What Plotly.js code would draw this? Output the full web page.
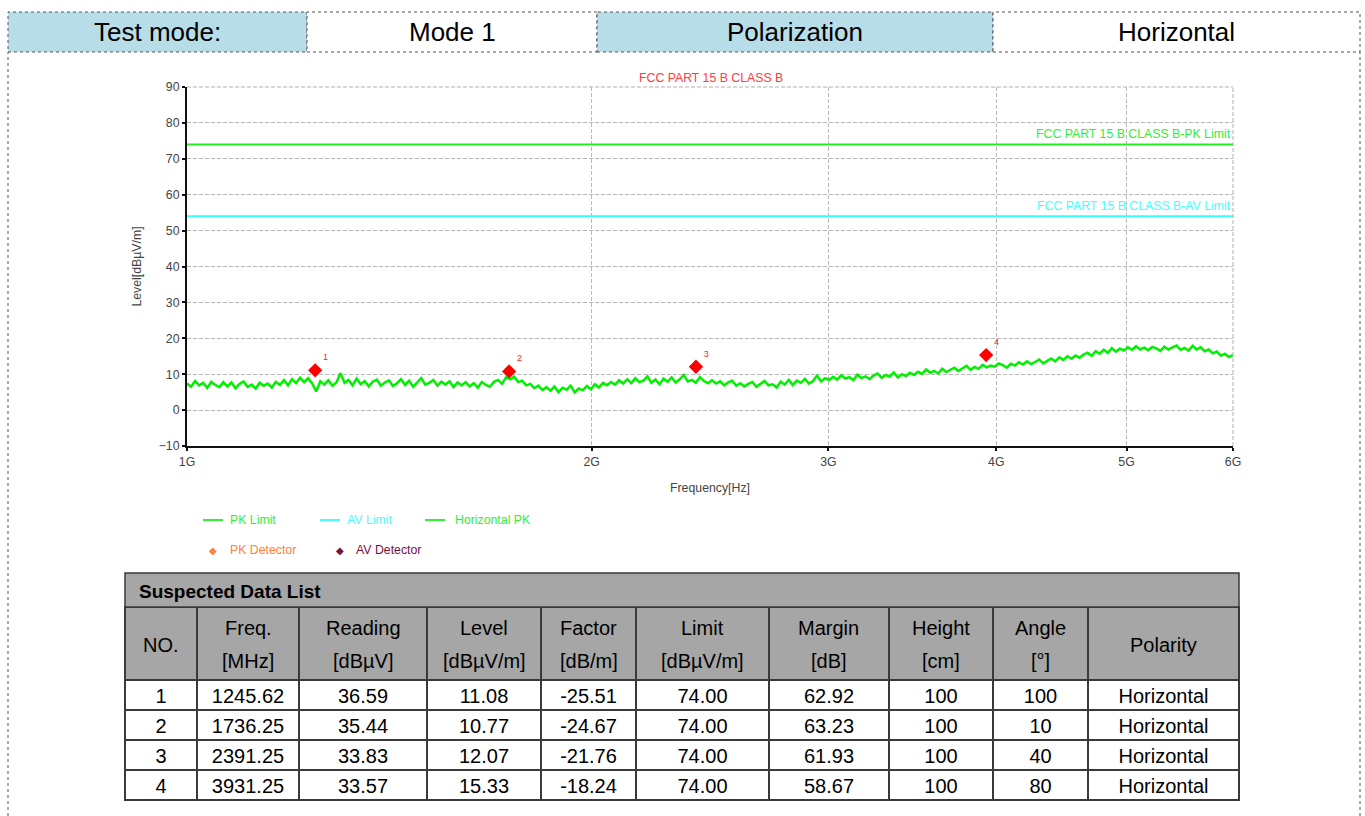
<!DOCTYPE html>
<html><head><meta charset="utf-8">
<script src="https://cdn.plot.ly/plotly-3.0.1.min.js"></script>
<style>html,body{margin:0;padding:0;background:#fff;overflow:hidden}#chart{width:1365px;height:816px}</style>
</head><body><div id="chart"></div>
<script>
const W = 1365, H = 816;

// ---------- data ----------
const infoLabels = ["Test mode:", "Mode 1", "Polarization", "Horizontal"];
const chartTitle = "FCC PART 15 B CLASS B";
const pkLimitLabel = "FCC PART 15 B CLASS B-PK Limit";
const avLimitLabel = "FCC PART 15 B CLASS B-AV Limit";
const pkLimit = 74;
const avLimit = 54;
const sweepStartMHz = 1000;
const sweepStopMHz = 6000;
const horizontalPK = [
  7.4, 6.5, 8.1, 6.9, 7.6, 6.2, 7.9, 7.0, 6.4, 7.8,
  6.6, 7.7, 6.1, 7.3, 8.0, 6.5, 7.1, 6.0, 7.6, 6.8,
  7.4, 6.3, 7.9, 7.0, 8.4, 6.9, 8.6, 7.5, 9.0, 7.8,
  8.9, 7.4, 5.2, 8.0, 7.1, 8.3, 6.8, 7.7, 10.3, 7.6,
  8.4, 6.9, 8.8, 7.2, 8.1, 6.6, 7.9, 8.5, 6.8, 7.7,
  8.3, 6.7, 7.5, 8.6, 7.0, 8.2, 6.5, 7.8, 8.9, 7.1,
  7.6, 8.4, 6.8, 7.9, 7.1, 8.0, 6.4, 7.7, 6.9, 7.8,
  6.6, 7.5, 6.2, 7.8, 7.0, 6.5, 7.9, 8.4, 7.3, 9.1,
  8.6, 9.3, 7.8, 8.2, 6.9, 7.3, 6.1, 6.8, 5.6, 6.4,
  5.4, 6.6, 5.0, 6.2, 5.7, 6.8, 4.9, 6.0, 5.5, 6.7,
  5.8, 7.2, 6.3, 7.6, 6.9, 7.8, 7.1, 8.3, 7.4, 8.6,
  7.5, 8.9, 7.8, 8.2, 9.4, 7.6, 8.5, 7.2, 8.8, 7.9,
  9.1, 7.7, 8.6, 9.8, 8.0, 8.4, 7.6, 9.2, 8.1, 7.5,
  8.3, 7.4, 8.0, 6.9, 7.7, 8.2, 6.8, 7.5, 6.6, 7.3,
  7.8, 6.5, 7.4, 8.1, 6.9, 7.2, 6.3, 7.9, 7.1, 8.4,
  7.0, 8.2, 7.6, 8.7, 7.4, 8.1, 9.6, 8.0, 8.9, 8.4,
  9.3, 8.5, 9.7, 8.8, 9.2, 8.3, 9.9, 8.9, 9.4, 8.6,
  9.6, 10.2, 9.0, 9.8, 9.3, 10.5, 9.1, 10.0, 9.5, 10.4,
  9.8, 10.7, 10.1, 11.3, 10.4, 10.9, 10.2, 11.5, 10.6, 11.1,
  11.8, 10.9, 11.6, 12.3, 11.2, 12.0, 11.5, 12.6, 11.9, 12.4,
  12.1, 13.0, 12.5, 11.8, 12.9, 12.4, 13.3, 12.7, 13.6, 12.8,
  13.4, 14.1, 13.0, 13.8, 14.4, 13.6, 14.7, 14.0, 15.0, 14.3,
  15.2, 14.6, 15.5, 16.0, 15.1, 16.4, 15.7, 16.8, 15.9, 17.3,
  16.3, 17.1, 16.6, 17.5, 16.8, 17.8, 16.9, 17.4, 16.7, 17.6,
  17.2, 16.5, 17.7, 16.9, 17.4, 18.0, 16.8, 17.3, 16.6, 17.9,
  16.9, 17.5, 16.4, 16.9, 15.8, 16.3, 15.2, 15.7, 14.8, 15.3
];
const markerNo = [1, 2, 3, 4];
const freqMHz = [1245.62, 1736.25, 2391.25, 3931.25];
const readingVals = [36.59, 35.44, 33.83, 33.57];
const levelVals = [11.08, 10.77, 12.07, 15.33];
const factorVals = [-25.51, -24.67, -21.76, -18.24];
const limitVals = [74.00, 74.00, 74.00, 74.00];
const marginVals = [62.92, 63.23, 61.93, 58.67];
const heightVals = [100, 100, 100, 100];
const angleVals = [100, 10, 40, 80];
const polarityVals = ["Horizontal", "Horizontal", "Horizontal", "Horizontal"];
const xTickVals = [1000, 2000, 3000, 4000, 5000, 6000];
const xTickText = ["1G", "2G", "3G", "4G", "5G", "6G"];
const yTickVals = [-10, 0, 10, 20, 30, 40, 50, 60, 70, 80, 90];
const headTop = ["NO.", "Freq.", "Reading", "Level", "Factor", "Limit", "Margin", "Height", "Angle", "Polarity"];
const headUnit = ["", "[MHz]", "[dBµV]", "[dBµV/m]", "[dB/m]", "[dBµV/m]", "[dB]", "[cm]", "[°]", ""];
const tableTitle = "Suspected Data List";
const legendLines = ["PK Limit", "AV Limit", "Horizontal PK"];
const legendMarkers = ["PK Detector", "AV Detector"];

// ---------- helpers (layout only) ----------
const X = p => p / W;
const Y = p => 1 - p / H;
const CH = "Liberation Sans, Arial, sans-serif";
const ARIAL = "Liberation Sans, Arial, sans-serif";
const CFS = 12.3;

// sweep grid (log-spaced measurement points)
const nPts = horizontalPK.length;
const sweepFreq = horizontalPK.map((_, i) => sweepStartMHz * Math.pow(sweepStopMHz / sweepStartMHz, i / (nPts - 1)));

const traces = [
  { x: [sweepStartMHz, sweepStopMHz], y: [pkLimit, pkLimit], mode: "lines", line: { color: "#22ee22", width: 2 }, hoverinfo: "skip", showlegend: false },
  { x: [sweepStartMHz, sweepStopMHz], y: [avLimit, avLimit], mode: "lines", line: { color: "#33ffff", width: 2 }, hoverinfo: "skip", showlegend: false },
  { x: sweepFreq, y: horizontalPK, mode: "lines", line: { color: "#00f000", width: 2.5 }, showlegend: false },
  { x: freqMHz, y: levelVals, mode: "markers+text", text: markerNo.map(String), textposition: "top right",
    textfont: { family: CH, size: 9, color: "#ff2020" },
    marker: { symbol: "diamond", size: 11, color: "#ff0000" }, showlegend: false, cliponaxis: false },
  {
    type: "table",
    domain: { x: [X(125), X(1239)], y: [Y(803), Y(607)] },
    columnwidth: [72, 102, 128, 114, 95, 133, 120, 104, 95, 151],
    header: { values: headTop.map(() => ""), height: 73, fill: { color: "#a6a6a6" }, line: { color: "#3a3a3a", width: 1.5 } },
    cells: {
      values: [
        markerNo.map(String),
        freqMHz.map(v => v.toFixed(2)),
        readingVals.map(v => v.toFixed(2)),
        levelVals.map(v => v.toFixed(2)),
        factorVals.map(v => v.toFixed(2)),
        limitVals.map(v => v.toFixed(2)),
        marginVals.map(v => v.toFixed(2)),
        heightVals.map(String),
        angleVals.map(String),
        polarityVals
      ],
      height: 30, align: "center", fill: { color: "#ffffff" },
      line: { color: "#3a3a3a", width: 1.5 },
      font: { family: ARIAL, size: 20, color: "#000" }
    }
  }
];

const shapes = [];
const annotations = [];

// top info row
const infoEdges = [8, 307, 597, 993, 1360];
const infoFill = ["#b7dde8", "#ffffff", "#b7dde8", "#ffffff"];
infoLabels.forEach((t, i) => {
  shapes.push({ type: "rect", xref: "paper", yref: "paper", x0: X(infoEdges[i]), x1: X(infoEdges[i + 1]), y0: Y(52), y1: Y(12),
    fillcolor: infoFill[i], line: { color: "#555", width: 1, dash: "dot" }, layer: "below" });
  annotations.push({ xref: "paper", yref: "paper", x: X((infoEdges[i] + infoEdges[i + 1]) / 2), y: Y(32), text: t, showarrow: false,
    xanchor: "center", yanchor: "middle", font: { family: ARIAL, size: 26, color: "#000" } });
});
// page side borders
[8, 1360].forEach(px => shapes.push({ type: "line", xref: "paper", yref: "paper", x0: X(px), x1: X(px), y0: Y(816), y1: Y(52),
  line: { color: "#555", width: 1, dash: "dot" } }));

// chart frame (top & right dashed)
shapes.push({ type: "line", xref: "paper", yref: "paper", x0: X(187), x1: X(1233), y0: Y(87), y1: Y(87), line: { color: "#b0b0b0", width: 1, dash: "4px,2px" } });
shapes.push({ type: "line", xref: "paper", yref: "paper", x0: X(1233), x1: X(1233), y0: Y(446), y1: Y(87), line: { color: "#b0b0b0", width: 1, dash: "4px,2px" } });

// chart title & limit labels
annotations.push({ xref: "paper", yref: "paper", x: X(711), y: Y(78), text: chartTitle, showarrow: false, xanchor: "center", yanchor: "middle",
  font: { family: CH, size: CFS, color: "#ff3b3b" } });
annotations.push({ xref: "paper", yref: "y", x: X(1233), y: pkLimit, text: pkLimitLabel, showarrow: false, xanchor: "right", yanchor: "bottom", yshift: 1,
  font: { family: CH, size: CFS, color: "#33ee33" } });
annotations.push({ xref: "paper", yref: "y", x: X(1233), y: avLimit, text: avLimitLabel, showarrow: false, xanchor: "right", yanchor: "bottom", yshift: 1,
  font: { family: CH, size: CFS, color: "#44ffff" } });

// legend (manual)
const lgLineX = [203, 320, 425];
const lgTextX = [230, 347, 455];
const lgColors = ["#33ee33", "#44ffff", "#33ee33"];
legendLines.forEach((t, i) => {
  shapes.push({ type: "line", xref: "paper", yref: "paper", x0: X(lgLineX[i]), x1: X(lgLineX[i] + 20), y0: Y(520), y1: Y(520), line: { color: lgColors[i], width: 2 } });
  annotations.push({ xref: "paper", yref: "paper", x: X(lgTextX[i] - 2), y: Y(520), text: t, showarrow: false, xanchor: "left", yanchor: "middle",
    font: { family: CH, size: CFS, color: lgColors[i] } });
});
const lgMarkX = [213, 340];
const lgMarkTextX = [230, 356];
const lgMarkColors = ["#ff8040", "#7a1040"];
legendMarkers.forEach((t, i) => {
  annotations.push({ xref: "paper", yref: "paper", x: X(lgMarkX[i]), y: Y(550), text: "◆", showarrow: false, xanchor: "center", yanchor: "middle",
    font: { family: "DejaVu Sans", size: 10, color: lgMarkColors[i] } });
  annotations.push({ xref: "paper", yref: "paper", x: X(lgMarkTextX[i] - 2), y: Y(550), text: t, showarrow: false, xanchor: "left", yanchor: "middle",
    font: { family: CH, size: CFS, color: lgMarkColors[i] } });
});

// table title bar
shapes.push({ type: "rect", xref: "paper", yref: "paper", x0: X(125), x1: X(1239), y0: Y(607), y1: Y(573), fillcolor: "#a6a6a6", line: { color: "#3a3a3a", width: 1.5 } });
annotations.push({ xref: "paper", yref: "paper", x: X(137), y: Y(591), text: "<b>" + tableTitle + "</b>", showarrow: false, xanchor: "left", yanchor: "middle",
  font: { family: ARIAL, size: 19, color: "#000" } });
// table header labels
const colEdges = [125, 197, 299, 427, 541, 636, 769, 889, 993, 1088, 1239];
headTop.forEach((t, i) => {
  const cx = X((colEdges[i] + colEdges[i + 1]) / 2);
  if (headUnit[i]) {
    annotations.push({ xref: "paper", yref: "paper", x: cx, y: Y(628), text: t, showarrow: false, xanchor: "center", yanchor: "middle", font: { family: ARIAL, size: 20, color: "#000" } });
    annotations.push({ xref: "paper", yref: "paper", x: cx, y: Y(661), text: headUnit[i], showarrow: false, xanchor: "center", yanchor: "middle", font: { family: ARIAL, size: 20, color: "#000" } });
  } else {
    annotations.push({ xref: "paper", yref: "paper", x: cx, y: Y(645), text: t, showarrow: false, xanchor: "center", yanchor: "middle", font: { family: ARIAL, size: 20, color: "#000" } });
  }
});

const layout = {
  width: W, height: H,
  margin: { l: 0, r: 0, t: 0, b: 0 },
  paper_bgcolor: "#ffffff", plot_bgcolor: "#ffffff",
  showlegend: false,
  font: { family: CH, size: CFS, color: "#444" },
  xaxis: {
    type: "log", range: [Math.log10(sweepStartMHz), Math.log10(sweepStopMHz)],
    domain: [X(187), X(1233)], anchor: "y",
    tickmode: "array", tickvals: xTickVals, ticktext: xTickText,
    showgrid: true, gridcolor: "#b8b8b8", griddash: "4px,2px", gridwidth: 1,
    showline: true, linecolor: "#111", linewidth: 2, ticks: "outside", ticklen: 3, tickcolor: "#111", tickwidth: 2,
    tickfont: { family: CH, size: CFS, color: "#444" }, zeroline: false,
    title: { text: "Frequency[Hz]", font: { family: CH, size: CFS, color: "#444" }, standoff: 16 }
  },
  yaxis: {
    range: [-10, 90], domain: [Y(446), Y(87)], anchor: "x",
    tickmode: "array", tickvals: yTickVals,
    showgrid: true, gridcolor: "#b8b8b8", griddash: "4px,2px", gridwidth: 1,
    showline: true, linecolor: "#111", linewidth: 2, ticks: "outside", ticklen: 3, tickcolor: "#111", tickwidth: 2,
    tickfont: { family: CH, size: CFS, color: "#444" }, zeroline: false,
    title: { text: "Level[dBµV/m]", font: { family: CH, size: CFS, color: "#444" }, standoff: 14 }
  },
  shapes: shapes,
  annotations: annotations
};

Plotly.newPlot("chart", traces, layout, { displayModeBar: false, staticPlot: true });
</script>
</body></html>
